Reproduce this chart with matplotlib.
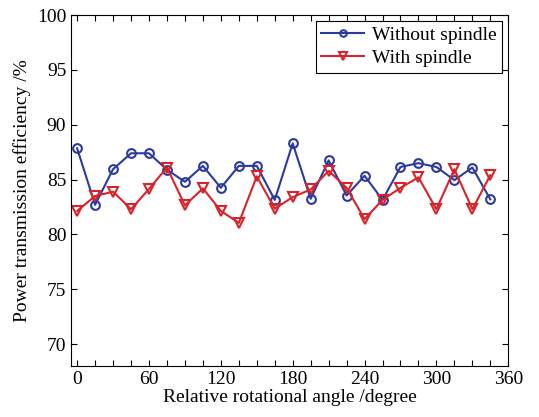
import numpy as np
import matplotlib.pyplot as plt
from matplotlib.ticker import MultipleLocator

angles = np.arange(0, 360, 15)
without_spindle = [87.85, 82.7, 85.95, 87.4, 87.4, 85.9, 84.8, 86.25, 84.25, 86.25, 86.25, 83.15,
                   88.3, 83.25, 86.75, 83.55, 85.35, 83.15, 86.15, 86.5, 86.15, 84.95, 86.1, 83.2]
with_spindle = [82.15, 83.5, 83.9, 82.3, 84.15, 86.1, 82.65, 84.2, 82.15, 81.05, 85.3, 82.35,
                83.4, 84.1, 85.8, 84.25, 81.4, 83.15, 84.25, 85.2, 82.3, 85.95, 82.3, 85.4]

plt.rcParams['font.family'] = ['Liberation Serif', 'DejaVu Serif']

fig = plt.figure(figsize=(5.39, 4.17), dpi=100)
ax = fig.add_axes([0.132, 0.122, 0.811, 0.842])

ax.plot(angles, without_spindle, '-o', color='#2a3b9c', lw=1.5, ms=6.3,
        mfc='none', mew=1.5, label='Without spindle')
ax.plot(angles, with_spindle, '-v', color='#d8232a', lw=1.5, ms=7.3,
        mfc='none', mew=1.5, label='With spindle')

ax.set_xlim(-5, 360)
ax.set_ylim(68, 100)
ax.xaxis.set_major_locator(MultipleLocator(60))
ax.xaxis.set_minor_locator(MultipleLocator(15))
ax.yaxis.set_major_locator(MultipleLocator(5))
ax.tick_params(which='both', direction='in', top=True, right=True, labelsize=14, length=4, width=0.8)

ax.set_xlabel('Relative rotational angle /degree', fontsize=14, labelpad=1)
ax.set_ylabel('Power transmission efficiency /%', fontsize=14, labelpad=4)

leg = ax.legend(loc='upper right', fontsize=14, fancybox=False, framealpha=1,
                edgecolor='black', borderaxespad=0.3, handlelength=2.2, markerscale=0.75,
                borderpad=0.3, labelspacing=0.25, handletextpad=0.4)
leg.get_frame().set_linewidth(0.8)

fig.savefig('out.png', dpi=100)
